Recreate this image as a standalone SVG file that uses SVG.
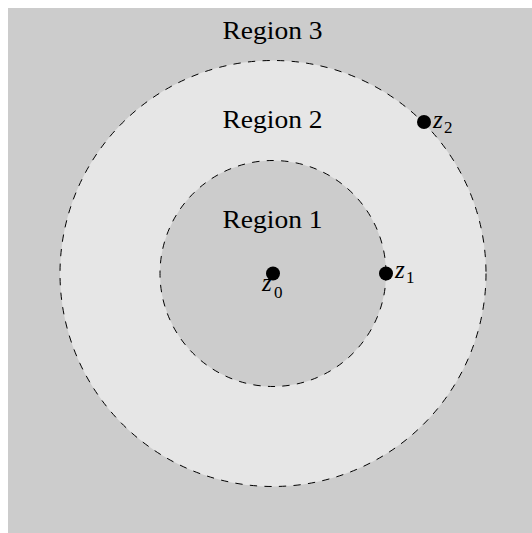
<svg xmlns="http://www.w3.org/2000/svg" width="532" height="533" viewBox="0 0 532 533">
<style>
.lbl{font-family:"Liberation Serif","DejaVu Serif",serif;font-size:25px;fill:#000}
.var{font-family:"Liberation Serif","DejaVu Serif",serif;font-size:25px;font-style:italic;fill:#000}
.sub{font-family:"Liberation Serif","DejaVu Serif",serif;font-size:17px;fill:#000}
.ring{stroke:#000;stroke-width:1;stroke-dasharray:7.3 7.3}
.dot{fill:#000}
</style>
<rect x="8" y="8" width="524" height="525" fill="#cccccc"/>
<g id="region3"><text class="lbl" x="272.5" y="39" text-anchor="middle" textLength="100" lengthAdjust="spacingAndGlyphs">Region 3</text></g>
<g id="connectors">
<circle class="ring" cx="273" cy="273.5" r="213" fill="#e6e6e6"/>
<circle class="ring" cx="273" cy="273.5" r="113" fill="#cccccc"/>
</g>
<g id="region2"><text class="lbl" x="272.5" y="128" text-anchor="middle" textLength="100" lengthAdjust="spacingAndGlyphs">Region 2</text></g>
<g id="region1"><text class="lbl" x="272.5" y="228" text-anchor="middle" textLength="100" lengthAdjust="spacingAndGlyphs">Region 1</text></g>
<g id="z0"><circle class="dot" cx="273" cy="273.5" r="7"/><text class="var" x="262" y="291">z</text><text class="sub" x="274" y="298">0</text></g>
<g id="z1"><circle class="dot" cx="386" cy="273.5" r="7"/><text class="var" x="395" y="278">z</text><text class="sub" x="406" y="283">1</text></g>
<g id="z2"><circle class="dot" cx="424" cy="122" r="7"/><text class="var" x="433" y="128">z</text><text class="sub" x="444" y="133">2</text></g>
</svg>
